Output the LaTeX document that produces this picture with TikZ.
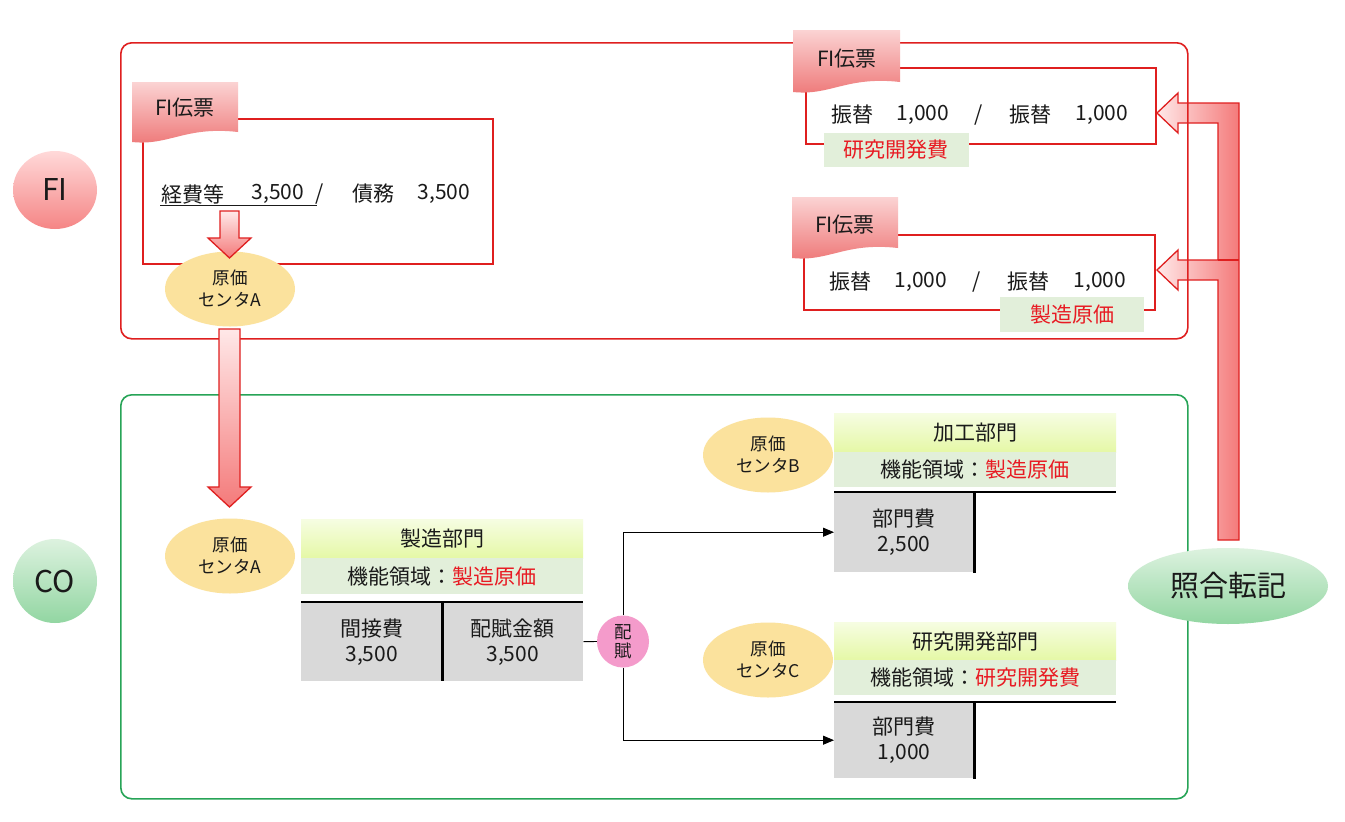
\documentclass[tikz,border=0pt]{standalone}
\usepackage{fontspec}
\setmainfont{Noto Sans CJK JP}
\usetikzlibrary{shapes.geometric,arrows.meta}
\definecolor{fired}{HTML}{DF1F1F}
\definecolor{cogreen}{HTML}{27A457}
\definecolor{ellfill}{HTML}{FBE29D}
\definecolor{hdrtop}{HTML}{F6FDE2}
\definecolor{hdrbot}{HTML}{E5F8A6}
\definecolor{fnfill}{HTML}{E2EFDA}
\definecolor{grayfill}{HTML}{D9D9D9}
\definecolor{txtred}{HTML}{E81B23}
\definecolor{pinklight}{HTML}{FFE8E8}
\definecolor{pinkdark}{HTML}{F47A7A}
\definecolor{tagtop}{HTML}{FBD3D3}
\definecolor{tagbot}{HTML}{EE7777}
\definecolor{haifu}{HTML}{F49BCB}
\definecolor{fitop}{HTML}{FFD9D9}
\definecolor{fibot}{HTML}{F58585}
\definecolor{cotop}{HTML}{DDF2DF}
\definecolor{cobot}{HTML}{92D6A2}
\definecolor{inktext}{HTML}{1A1A1A}
% wavy-bottom voucher tag: x1 y1 x2 y2
\newcommand{\vtag}[4]{%
  \shade[top color=tagtop, bottom color=tagbot]
    (#1,#2) -- (#3,#2) -- (#3,#4-10)
    .. controls ({#1+0.5*(#3-#1)},#4-16) and ({#1+0.35*(#3-#1)},#4+4) .. (#1,#4) -- cycle;}
\begin{document}
\begin{tikzpicture}[x=1pt,y=-1pt,
  t21/.style={font=\fontsize{21}{25}\selectfont, text=inktext, inner sep=0pt, align=center},
  t18/.style={font=\fontsize{17.5}{22}\selectfont, text=inktext, inner sep=0pt, align=center},
  outerbox/.style={draw=#1, line width=1.6pt, rounded corners=11pt, minimum width=1067pt, anchor=north west, inner sep=0pt},
  vbox/.style={draw=fired, line width=1.6pt, anchor=north west, inner sep=0pt},
  glabel/.style={fill=fnfill, inner sep=0pt, font=\fontsize{21}{25}\selectfont, text=txtred},
  cellipse/.style={ellipse, fill=ellfill, minimum width=130pt, minimum height=75pt, t18},
  hdr/.style={top color=hdrtop, bottom color=hdrbot, minimum width=282pt, minimum height=39pt, anchor=north west, t21},
  fnrow/.style={fill=fnfill, minimum width=282pt, minimum height=36pt, anchor=north west, t21},
  gcell/.style={fill=grayfill, anchor=north west, t21},
  rulek/.style={line width=2.6pt, black},
  blockarrow/.style={draw=fired, line width=1.3pt},
  conn/.style={draw=black, line width=0.9pt},
  conarrow/.style={conn, -{Triangle[length=11pt,width=9pt]}},
]
\useasboundingbox (0,0) rectangle (1345,822);
\fill[white] (0,0) rectangle (1345,822);

% ---- bent arrow from 照合転記 to the two vouchers
\draw[blockarrow, left color=pinklight, right color=pinkdark]
  (1218,540) -- (1239,540) -- (1239,103) -- (1178,103) -- (1178,93) -- (1157,113)
  -- (1178,133) -- (1178,123) -- (1218,123) -- (1218,260) -- (1178,260) -- (1178,250)
  -- (1157,270) -- (1178,290) -- (1178,280) -- (1218,280) -- cycle;
\draw[blockarrow] (1218,260) -- (1239,260);

% ---- outer boxes
\node[outerbox=fired, minimum height=296pt] (fibox) at (120,42) {};
\node[outerbox=cogreen, minimum height=404pt] (cobox) at (120,394) {};

% ---- vouchers
\node[vbox, minimum width=350pt, minimum height=145pt] (v1) at (142,118) {};
\node[vbox, minimum width=350pt, minimum height=76pt] (v2) at (805,67) {};
\node[vbox, minimum width=351pt, minimum height=75pt] (v3) at (803,234) {};

\node[glabel, minimum width=145pt, minimum height=34pt] (gl2) at (896,150) {研究開発費};
\node[glabel, minimum width=144pt, minimum height=35pt] (gl3) at (1072,314.5) {製造原価};

\vtag{132}{82}{238}{142}
\vtag{793}{30}{900}{92}
\vtag{792}{197}{898}{258}
\node[t21] (tg1) at (185,108) {FI伝票};
\node[t21] (tg2) at (847,59) {FI伝票};
\node[t21] (tg3) at (845,225) {FI伝票};

% voucher 1 text
\node[t21] (v1a) at (193,194) {経費等};
\node[t21] (v1b) at (278,194) {3,500};
\node[t21] (v1c) at (320,194) {/};
\node[t21] (v1d) at (373,194) {債務};
\node[t21] (v1e) at (444,194) {3,500};
\draw[line width=0.9pt, inktext] (160,205) -- (317,205);

% voucher 2 text
\node[t21] (v2a) at (852,115) {振替};
\node[t21] (v2b) at (923,115) {1,000};
\node[t21] (v2c) at (979,115) {/};
\node[t21] (v2d) at (1030,115) {振替};
\node[t21] (v2e) at (1102,115) {1,000};
% voucher 3 text
\node[t21] (v3a) at (850,282) {振替};
\node[t21] (v3b) at (921,282) {1,000};
\node[t21] (v3c) at (977,282) {/};
\node[t21] (v3d) at (1028,282) {振替};
\node[t21] (v3e) at (1100,282) {1,000};

% cost centre A in FI, small arrow
\node[cellipse] (ccfi) at (230,289) {原価\\センタA};
\draw[blockarrow, top color=pinklight, bottom color=pinkdark]
  (220,211) -- (239,211) -- (239,238) -- (251,238) -- (229.5,258) -- (208,238) -- (220,238) -- cycle;

% big down arrow FI -> CO
\draw[blockarrow, top color=pinklight, bottom color=pinkdark]
  (219,329) -- (240,329) -- (240,487) -- (251,487) -- (229.5,507) -- (208,487) -- (219,487) -- cycle;

% ---- CO: 製造部門
\node[cellipse] (cca) at (230,556) {原価\\センタA};
\node[hdr] (h1) at (301,519) {製造部門};
\node[fnrow] (f1) at (301,558) {機能領域：\textcolor{txtred}{製造原価}};
\node[gcell, minimum width=141pt, minimum height=79pt] (g1) at (301,602) {間接費\\3,500};
\node[gcell, minimum width=141pt, minimum height=79pt] (g2) at (442,602) {配賦金額\\3,500};
\draw[rulek] (g1.north west) -- (g2.north east);
\draw[rulek] (g1.north east) -- (g1.south east);

% 配賦
\node[circle, fill=haifu, minimum size=52pt, inner sep=0pt, font=\fontsize{17.5}{19}\selectfont, text=inktext, align=center] (hf) at (623,641.5) {配\\賦};
\draw[conn] (g2.east) -- (hf.west);

% ---- 加工部門
\node[cellipse] (ccb) at (768,455) {原価\\センタB};
\node[hdr] (h2) at (834,413) {加工部門};
\node[fnrow, minimum height=35pt] (f2) at (834,452) {機能領域：\textcolor{txtred}{製造原価}};
\node[gcell, minimum width=140pt, minimum height=80pt] (kb) at (834,492) {部門費\\2,500};
\draw[rulek] (kb.north west) -- (1116,492);
\draw[rulek] (kb.north east) -- ([yshift=-1pt]kb.south east);

% ---- 研究開発部門
\node[cellipse] (ccc) at (768,660) {原価\\センタC};
\node[hdr, minimum height=38pt] (h3) at (834,622) {研究開発部門};
\node[fnrow, minimum height=35pt] (f3) at (834,660) {機能領域：\textcolor{txtred}{研究開発費}};
\node[gcell, minimum width=140pt, minimum height=76pt] (kc) at (834,702) {部門費\\1,000};
\draw[rulek] (kc.north west) -- (1116,702);
\draw[rulek] (kc.north east) -- ([yshift=-1pt]kc.south east);

% allocation connectors
\draw[conarrow] (hf.north) |- (kb.west);
\draw[conarrow] (hf.south) |- (kc.west);

% ---- 照合転記
\node[ellipse, top color=cotop, bottom color=cobot, minimum width=200pt, minimum height=76pt, inner sep=0pt,
      font=\fontsize{29}{32}\selectfont, text=inktext] (shogo) at (1228,586) {照合転記};

% ---- FI / CO labels
\node[ellipse, top color=fitop, bottom color=fibot, minimum width=84pt, minimum height=78pt, inner sep=0pt,
      font=\fontsize{30}{32}\selectfont, text=inktext] (fil) at (55,190) {FI};
\node[ellipse, top color=cotop, bottom color=cobot, minimum width=84pt, minimum height=84pt, inner sep=0pt,
      font=\fontsize{30}{32}\selectfont, text=inktext] (col) at (55,581) {CO};
\end{tikzpicture}
\end{document}
